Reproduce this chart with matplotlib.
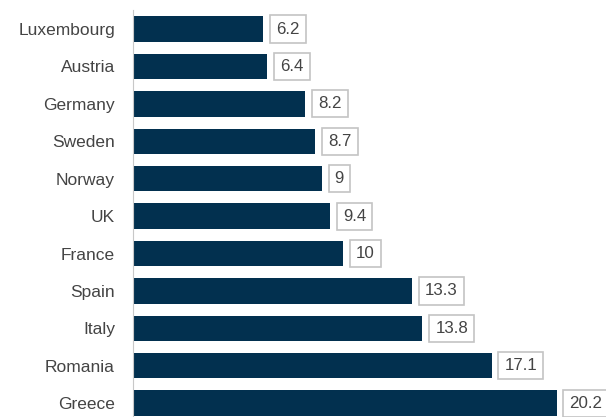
import matplotlib.pyplot as plt

plt.rcParams['font.family'] = ['Liberation Sans', 'DejaVu Sans']

countries = ['Luxembourg', 'Austria', 'Germany', 'Sweden', 'Norway', 'UK',
             'France', 'Spain', 'Italy', 'Romania', 'Greece']
values = [6.2, 6.4, 8.2, 8.7, 9, 9.4, 10, 13.3, 13.8, 17.1, 20.2]
labels = ['6.2', '6.4', '8.2', '8.7', '9', '9.4', '10', '13.3', '13.8', '17.1', '20.2']

bar_color = '#02304f'
text_color = '#444444'

fig = plt.figure(figsize=(6.06, 4.17), dpi=100)
ax = fig.add_axes([133 / 606, 0, 1 - 133 / 606, 1 - 10 / 417])

y = range(len(countries))
ax.barh(y, values, height=0.68, color=bar_color)

# value labels in light grey boxes
for i, (v, lab) in enumerate(zip(values, labels)):
    ax.annotate(lab, (v, i), xytext=(13, 0), textcoords='offset pixels',
                ha='left', va='center', fontsize=12.2, color=text_color,
                bbox=dict(boxstyle='square,pad=0.36', fc='white',
                          ec='#c4c4c4', lw=1.2),
                annotation_clip=False)

ax.set_yticks(list(y))
ax.set_yticklabels(countries, fontsize=12.5, color=text_color)
ax.tick_params(axis='y', length=0, pad=13)
ax.set_xticks([])
ax.set_xlim(0, 473 / 20.97)
ax.set_ylim(10.37, -0.51)

for s in ['top', 'right', 'bottom']:
    ax.spines[s].set_visible(False)
ax.spines['left'].set_color('#c8c8c8')
ax.spines['left'].set_linewidth(0.8)

fig.savefig('out.png', dpi=100)
